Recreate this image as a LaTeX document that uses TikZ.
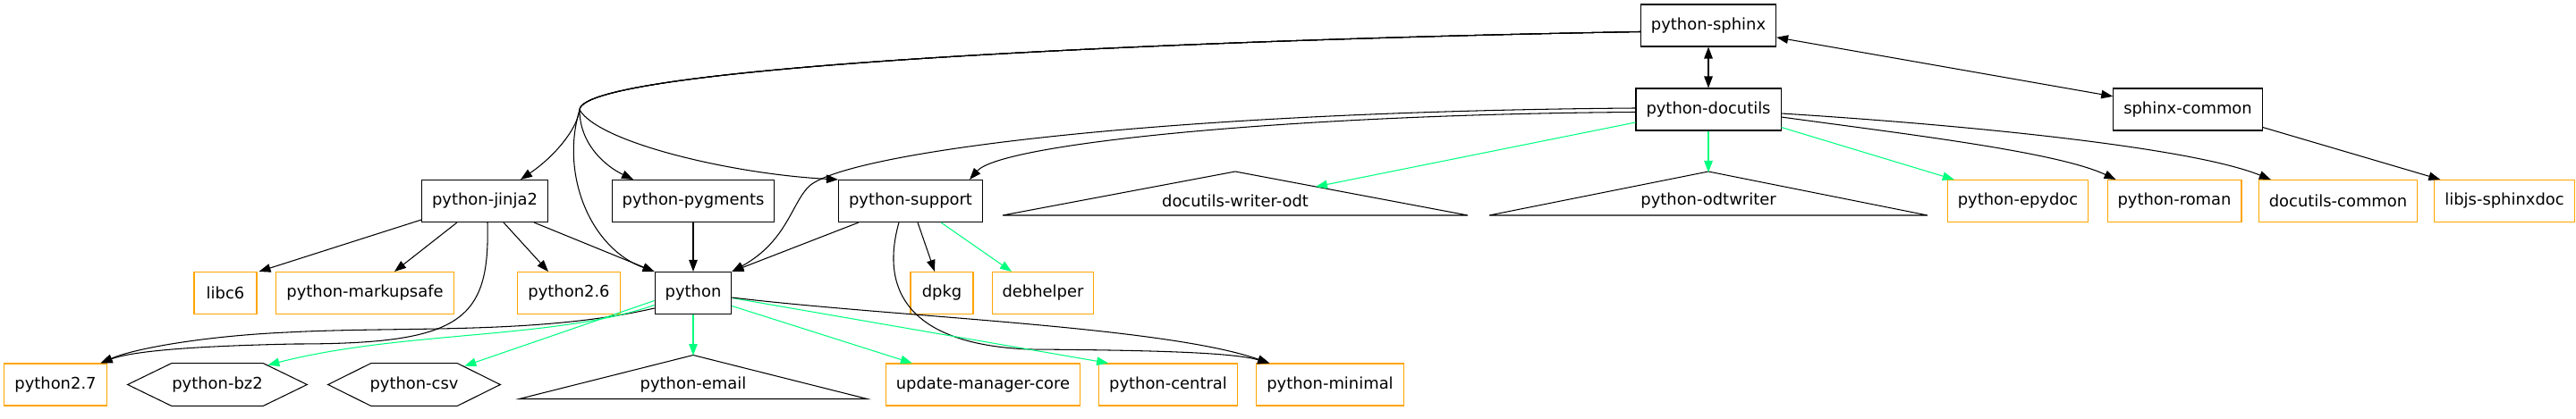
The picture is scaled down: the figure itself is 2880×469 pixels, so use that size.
\documentclass[tikz,border=0pt]{standalone}
\usepackage{fontspec}
\setmainfont{DejaVu Sans}
\usetikzlibrary{positioning,calc,arrows.meta}
\definecolor{recgreen}{RGB}{0,255,127}
\definecolor{pkgorange}{RGB}{255,165,0}
\tikzset{pkg/.style={draw,line width=0.6pt,minimum height=0.94cm,minimum width=1.4cm,inner xsep=0.23cm,font=\fontsize{10.2}{12}\selectfont},
         extpkg/.style={pkg,draw=pkgorange},
         shp/.style={draw=none,minimum height=0.94cm,inner sep=0pt,font=\fontsize{10.2}{12}\selectfont},
         outline/.style={line width=0.6pt},
         dep/.style={->,line width=0.6pt},
         rec/.style={dep,recgreen}
}
\newcommand{\drawtri}[2]{\draw[outline] ($(#1)+(0,-33)$) -- ($(#1)+(#2,16)$) -- ($(#1)+(-#2,16)$) -- cycle;}
\newcommand{\drawhex}[2]{\draw[outline] (#1.west) -- ($(#1.north west)+(#2,0)$) -- ($(#1.north east)+(-#2,0)$) -- (#1.east) -- ($(#1.south east)+(-#2,0)$) -- ($(#1.south west)+(#2,0)$) -- cycle;}

\begin{document}
\begin{tikzpicture}[x=0.02cm,y=-0.02cm,>={Triangle[length=0.26cm,width=0.19cm]}]
\useasboundingbox (0,0) rectangle (2880,469);

\node[pkg] (sphinx) at (1910,28.5) {python-sphinx};
\node[pkg] (docutils) at (1910,122.5) {python-docutils};
\node[pkg] (common) at (2446,122.5) {sphinx-common};
\node[pkg] (jinja) at (542,225) {python-jinja2};
\node[pkg] (pygments) at (775,225) {python-pygments};
\node[pkg] (support) at (1018,225) {python-support};
\node[shp] (wodt) at (1381,225) {docutils-writer-odt};
\node[shp] (odtw) at (1910,225) {python-odtwriter};
\node[extpkg] (epydoc) at (2256,225) {python-epydoc};
\node[extpkg] (roman) at (2431,225) {python-roman};
\node[extpkg] (dcommon) at (2614,225) {docutils-common};
\node[extpkg] (libjs) at (2800,225) {libjs-sphinxdoc};
\node[extpkg] (libc) at (252,328) {libc6};
\node[extpkg] (markup) at (408,328) {python-markupsafe};
\node[extpkg] (py26) at (636,328) {python2.6};
\node[pkg] (python) at (775,328) {python};
\node[extpkg] (dpkg) at (1053,328) {dpkg};
\node[extpkg] (debhelper) at (1166,328) {debhelper};
\node[extpkg] (py27) at (62,430.5) {python2.7};
\node[shp,minimum width=4cm] (bz2) at (243,430.5) {python-bz2};
\node[shp,minimum width=3.84cm] (csv) at (463,430.5) {python-csv};
\node[shp] (email) at (775,430.5) {python-email};
\node[extpkg] (umc) at (1099,430.5) {update-manager-core};
\node[extpkg] (central) at (1306,430.5) {python-central};
\node[extpkg] (minimal) at (1487,430.5) {python-minimal};

\drawtri{wodt}{260}
\drawtri{odtw}{245}
\drawtri{email}{194.5}
\drawhex{bz2}{49}
\drawhex{csv}{48}

\coordinate (fan) at (648,123);
\draw[dep,<->] (sphinx) -- (docutils);
\draw[dep,<->] (sphinx) -- (common);
\draw[dep] ($(sphinx.west)+(0,7)$) .. controls (1300,45) and (650,75) .. (fan) .. controls (645,145) and (620,175) .. ($(jinja.north)+(40,0)$);
\draw[dep] ($(sphinx.west)+(0,7)$) .. controls (1300,45) and (650,75) .. (fan) .. controls (648,160) and (675,185) .. ($(pygments.north)+(-67,0)$);
\draw[dep] ($(sphinx.west)+(0,7)$) .. controls (1300,45) and (650,75) .. (fan) .. controls (670,160) and (820,195) .. (support.north west);
\draw[dep] ($(sphinx.west)+(0,7)$) .. controls (1300,45) and (650,75) .. (fan) .. controls (626,195) and (660,278) .. (python.north west);

\draw[dep] ($(docutils.west)+(0,3)$) .. controls (1450,128) and (1120,160) .. ($(support.north east)+(-15,0)$);
\draw[dep] ($(docutils.west)+(0,-1.5)$) .. controls (1300,125) and (950,170) .. (905,208) .. controls (885,227) and (880,270) .. (python.north east);
\draw[rec] ($(docutils.west)+(0,14.5)$) -- ($(wodt)+(90,-16)$);
\draw[rec] (docutils.south) -- ($(odtw)+(0,-32)$);
\draw[rec] ($(docutils.south east)+(0,-4)$) -- ($(epydoc.north west)+(8,0)$);
\draw[dep] ($(docutils.east)+(0,8.5)$) .. controls (2130,150) and (2300,170) .. ($(roman.north west)+(10,0)$);
\draw[dep] ($(docutils.east)+(0,4.5)$) .. controls (2200,140) and (2450,165) .. ($(dcommon.north west)+(14,0)$);
\draw[dep] ($(common.south east)+(0,-4)$) -- ($(libjs.north west)+(7,0)$);

\draw[dep] ($(jinja.south west)+(0,-3)$) -- ($(libc.north east)+(2,0)$);
\draw[dep] ($(jinja.south)+(-31,0)$) -- ($(markup.north)+(33,0)$);
\draw[dep] ($(jinja.south)+(21,0)$) -- ($(py26.north)+(-23,0)$);
\draw[dep] ($(jinja.south)+(55,0)$) -- (python.north west);
\draw[dep] ($(jinja.south)+(3,0)$) .. controls (548,360) and (515,385) .. (330,385) .. controls (230,387) and (150,392) .. ($(py27.north east)+(-7,0)$);
\draw[dep] (pygments) -- (python);

\draw[dep] ($(support.south west)+(23,0)$) -- (python.north east);
\draw[dep] ($(support.south)+(8,0)$) -- ($(dpkg.north)+(-8,0)$);
\draw[rec] ($(support.south)+(34,0)$) -- ($(debhelper.north)+(-35,0)$);
\draw[dep] ($(support.south)+(-13,0)$) .. controls (985,320) and (1010,385) .. (1150,391) .. controls (1300,392) and (1380,395) .. ($(minimal.north west)+(15,0)$);

\draw[dep] ($(python.west)+(0,17)$) .. controls (600,375) and (450,365) .. (321,372) .. controls (230,376) and (150,390) .. ($(py27.north east)+(-7,0)$);
\draw[rec] ($(python.west)+(0,13.5)$) .. controls (620,380) and (450,370) .. ($(bz2.north east)+(-44,2)$);
\draw[rec] ($(python.west)+(0,8.5)$) -- ($(csv.north east)+(-40,3)$);
\draw[rec] (python.south) -- ($(email)+(0,-32.5)$);
\draw[rec] ($(python.east)+(0,14.5)$) -- ($(umc.north west)+(30,0)$);
\draw[rec] ($(python.east)+(0,5.5)$) -- ($(central.north west)+(11,0)$);
\draw[dep] ($(python.east)+(0,5)$) .. controls (1000,355) and (1300,365) .. ($(minimal.north west)+(15,0)$);

\end{tikzpicture}
\end{document}
